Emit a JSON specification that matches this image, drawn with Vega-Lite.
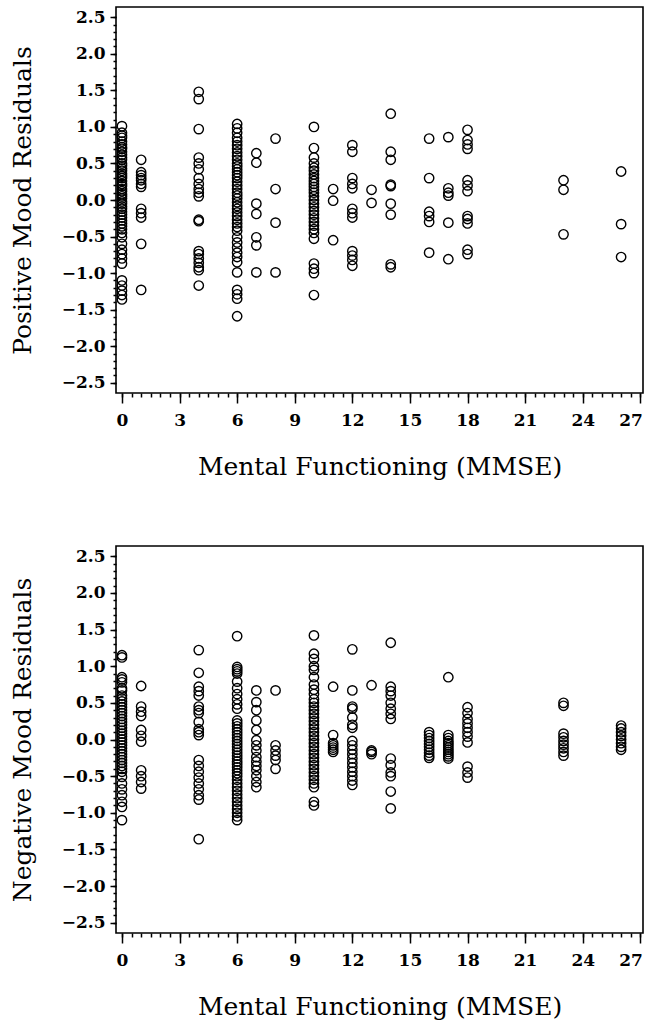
{
  "$schema": "https://vega.github.io/schema/vega-lite/v6.json",
  "padding": {"left": 9, "top": 6, "right": 4, "bottom": 0},
  "spacing": 65,
  "background": "white",
  "config": {
    "view": {"stroke": "black", "strokeWidth": 1.6},
    "axis": {
      "grid": false,
      "domain": false,
      "tickColor": "black",
      "tickWidth": 1.5,
      "labelColor": "black",
      "labelFont": "DejaVu Serif",
      "labelFontWeight": "bold",
      "labelFontSize": 17,
      "titleColor": "black",
      "titleFont": "DejaVu Serif",
      "titleFontWeight": "normal",
      "titleFontSize": 25
    }
  },
  "datasets": {
    "pos": [
      {"mmse":0,"resid":1.01},{"mmse":0,"resid":0.92},{"mmse":0,"resid":0.88},{"mmse":0,"resid":0.85},{"mmse":0,"resid":0.8},{"mmse":0,"resid":0.76},{"mmse":0,"resid":0.72},{"mmse":0,"resid":0.7},{"mmse":0,"resid":0.66},{"mmse":0,"resid":0.62},{"mmse":0,"resid":0.58},{"mmse":0,"resid":0.55},{"mmse":0,"resid":0.5},{"mmse":0,"resid":0.47},{"mmse":0,"resid":0.43},{"mmse":0,"resid":0.4},{"mmse":0,"resid":0.36},{"mmse":0,"resid":0.33},{"mmse":0,"resid":0.3},{"mmse":0,"resid":0.26},{"mmse":0,"resid":0.22},{"mmse":0,"resid":0.19},{"mmse":0,"resid":0.15},{"mmse":0,"resid":0.12},{"mmse":0,"resid":0.08},{"mmse":0,"resid":0.05},{"mmse":0,"resid":0.02},{"mmse":0,"resid":-0.02},{"mmse":0,"resid":-0.05},{"mmse":0,"resid":-0.09},{"mmse":0,"resid":-0.12},{"mmse":0,"resid":-0.16},{"mmse":0,"resid":-0.2},{"mmse":0,"resid":-0.24},{"mmse":0,"resid":-0.28},{"mmse":0,"resid":-0.32},{"mmse":0,"resid":-0.36},{"mmse":0,"resid":-0.4},{"mmse":0,"resid":-0.45},{"mmse":0,"resid":-0.51},{"mmse":0,"resid":-0.6},{"mmse":0,"resid":-0.68},{"mmse":0,"resid":-0.74},{"mmse":0,"resid":-0.8},{"mmse":0,"resid":-0.87},{"mmse":0,"resid":-1.1},{"mmse":0,"resid":-1.17},{"mmse":0,"resid":-1.24},{"mmse":0,"resid":-1.3},{"mmse":0,"resid":-1.36},
      {"mmse":1,"resid":0.55},{"mmse":1,"resid":0.38},{"mmse":1,"resid":0.34},{"mmse":1,"resid":0.3},{"mmse":1,"resid":0.27},{"mmse":1,"resid":0.22},{"mmse":1,"resid":0.18},{"mmse":1,"resid":-0.12},{"mmse":1,"resid":-0.18},{"mmse":1,"resid":-0.24},{"mmse":1,"resid":-0.6},{"mmse":1,"resid":-1.23},
      {"mmse":4,"resid":1.48},{"mmse":4,"resid":1.38},{"mmse":4,"resid":0.97},{"mmse":4,"resid":0.58},{"mmse":4,"resid":0.5},{"mmse":4,"resid":0.42},{"mmse":4,"resid":0.3},{"mmse":4,"resid":0.22},{"mmse":4,"resid":0.15},{"mmse":4,"resid":0.1},{"mmse":4,"resid":0.05},{"mmse":4,"resid":-0.27},{"mmse":4,"resid":-0.29},{"mmse":4,"resid":-0.7},{"mmse":4,"resid":-0.74},{"mmse":4,"resid":-0.8},{"mmse":4,"resid":-0.86},{"mmse":4,"resid":-0.92},{"mmse":4,"resid":-0.96},{"mmse":4,"resid":-1.17},
      {"mmse":6,"resid":1.04},{"mmse":6,"resid":0.98},{"mmse":6,"resid":0.92},{"mmse":6,"resid":0.85},{"mmse":6,"resid":0.8},{"mmse":6,"resid":0.75},{"mmse":6,"resid":0.7},{"mmse":6,"resid":0.65},{"mmse":6,"resid":0.6},{"mmse":6,"resid":0.55},{"mmse":6,"resid":0.5},{"mmse":6,"resid":0.46},{"mmse":6,"resid":0.42},{"mmse":6,"resid":0.38},{"mmse":6,"resid":0.34},{"mmse":6,"resid":0.3},{"mmse":6,"resid":0.25},{"mmse":6,"resid":0.2},{"mmse":6,"resid":0.15},{"mmse":6,"resid":0.1},{"mmse":6,"resid":0.06},{"mmse":6,"resid":0.02},{"mmse":6,"resid":-0.03},{"mmse":6,"resid":-0.08},{"mmse":6,"resid":-0.12},{"mmse":6,"resid":-0.17},{"mmse":6,"resid":-0.22},{"mmse":6,"resid":-0.27},{"mmse":6,"resid":-0.32},{"mmse":6,"resid":-0.37},{"mmse":6,"resid":-0.42},{"mmse":6,"resid":-0.51},{"mmse":6,"resid":-0.58},{"mmse":6,"resid":-0.65},{"mmse":6,"resid":-0.72},{"mmse":6,"resid":-0.78},{"mmse":6,"resid":-0.85},{"mmse":6,"resid":-0.99},{"mmse":6,"resid":-1.23},{"mmse":6,"resid":-1.29},{"mmse":6,"resid":-1.35},{"mmse":6,"resid":-1.59},
      {"mmse":7,"resid":0.64},{"mmse":7,"resid":0.51},{"mmse":7,"resid":-0.05},{"mmse":7,"resid":-0.19},{"mmse":7,"resid":-0.51},{"mmse":7,"resid":-0.62},{"mmse":7,"resid":-0.99},
      {"mmse":8,"resid":0.84},{"mmse":8,"resid":0.15},{"mmse":8,"resid":-0.31},{"mmse":8,"resid":-0.99},
      {"mmse":10,"resid":1.0},{"mmse":10,"resid":0.71},{"mmse":10,"resid":0.58},{"mmse":10,"resid":0.5},{"mmse":10,"resid":0.44},{"mmse":10,"resid":0.4},{"mmse":10,"resid":0.35},{"mmse":10,"resid":0.3},{"mmse":10,"resid":0.26},{"mmse":10,"resid":0.22},{"mmse":10,"resid":0.18},{"mmse":10,"resid":0.14},{"mmse":10,"resid":0.1},{"mmse":10,"resid":0.05},{"mmse":10,"resid":0.0},{"mmse":10,"resid":-0.05},{"mmse":10,"resid":-0.1},{"mmse":10,"resid":-0.15},{"mmse":10,"resid":-0.2},{"mmse":10,"resid":-0.25},{"mmse":10,"resid":-0.3},{"mmse":10,"resid":-0.35},{"mmse":10,"resid":-0.4},{"mmse":10,"resid":-0.45},{"mmse":10,"resid":-0.53},{"mmse":10,"resid":-0.87},{"mmse":10,"resid":-0.94},{"mmse":10,"resid":-1.0},{"mmse":10,"resid":-1.3},
      {"mmse":11,"resid":0.15},{"mmse":11,"resid":-0.01},{"mmse":11,"resid":-0.55},
      {"mmse":12,"resid":0.75},{"mmse":12,"resid":0.66},{"mmse":12,"resid":0.3},{"mmse":12,"resid":0.22},{"mmse":12,"resid":0.16},{"mmse":12,"resid":-0.12},{"mmse":12,"resid":-0.18},{"mmse":12,"resid":-0.24},{"mmse":12,"resid":-0.7},{"mmse":12,"resid":-0.76},{"mmse":12,"resid":-0.82},{"mmse":12,"resid":-0.9},
      {"mmse":13,"resid":0.14},{"mmse":13,"resid":-0.04},
      {"mmse":14,"resid":1.18},{"mmse":14,"resid":0.66},{"mmse":14,"resid":0.55},{"mmse":14,"resid":0.21},{"mmse":14,"resid":0.19},{"mmse":14,"resid":-0.05},{"mmse":14,"resid":-0.2},{"mmse":14,"resid":-0.88},{"mmse":14,"resid":-0.92},
      {"mmse":16,"resid":0.84},{"mmse":16,"resid":0.3},{"mmse":16,"resid":-0.16},{"mmse":16,"resid":-0.22},{"mmse":16,"resid":-0.3},{"mmse":16,"resid":-0.72},
      {"mmse":17,"resid":0.86},{"mmse":17,"resid":0.16},{"mmse":17,"resid":0.1},{"mmse":17,"resid":0.06},{"mmse":17,"resid":-0.31},{"mmse":17,"resid":-0.81},
      {"mmse":18,"resid":0.96},{"mmse":18,"resid":0.82},{"mmse":18,"resid":0.76},{"mmse":18,"resid":0.7},{"mmse":18,"resid":0.27},{"mmse":18,"resid":0.2},{"mmse":18,"resid":0.12},{"mmse":18,"resid":-0.22},{"mmse":18,"resid":-0.26},{"mmse":18,"resid":-0.32},{"mmse":18,"resid":-0.68},{"mmse":18,"resid":-0.74},
      {"mmse":23,"resid":0.27},{"mmse":23,"resid":0.14},{"mmse":23,"resid":-0.47},
      {"mmse":26,"resid":0.39},{"mmse":26,"resid":-0.33},{"mmse":26,"resid":-0.78}
    ],
    "neg": [
      {"mmse":0,"resid":1.15},{"mmse":0,"resid":1.12},{"mmse":0,"resid":0.85},{"mmse":0,"resid":0.82},{"mmse":0,"resid":0.78},{"mmse":0,"resid":0.7},{"mmse":0,"resid":0.67},{"mmse":0,"resid":0.6},{"mmse":0,"resid":0.56},{"mmse":0,"resid":0.52},{"mmse":0,"resid":0.48},{"mmse":0,"resid":0.44},{"mmse":0,"resid":0.4},{"mmse":0,"resid":0.36},{"mmse":0,"resid":0.32},{"mmse":0,"resid":0.28},{"mmse":0,"resid":0.24},{"mmse":0,"resid":0.2},{"mmse":0,"resid":0.16},{"mmse":0,"resid":0.12},{"mmse":0,"resid":0.08},{"mmse":0,"resid":0.04},{"mmse":0,"resid":0.0},{"mmse":0,"resid":-0.04},{"mmse":0,"resid":-0.08},{"mmse":0,"resid":-0.12},{"mmse":0,"resid":-0.16},{"mmse":0,"resid":-0.2},{"mmse":0,"resid":-0.24},{"mmse":0,"resid":-0.28},{"mmse":0,"resid":-0.32},{"mmse":0,"resid":-0.36},{"mmse":0,"resid":-0.4},{"mmse":0,"resid":-0.44},{"mmse":0,"resid":-0.51},{"mmse":0,"resid":-0.6},{"mmse":0,"resid":-0.68},{"mmse":0,"resid":-0.76},{"mmse":0,"resid":-0.85},{"mmse":0,"resid":-0.92},{"mmse":0,"resid":-1.1},
      {"mmse":1,"resid":0.73},{"mmse":1,"resid":0.45},{"mmse":1,"resid":0.38},{"mmse":1,"resid":0.32},{"mmse":1,"resid":0.13},{"mmse":1,"resid":0.05},{"mmse":1,"resid":-0.03},{"mmse":1,"resid":-0.42},{"mmse":1,"resid":-0.5},{"mmse":1,"resid":-0.58},{"mmse":1,"resid":-0.67},
      {"mmse":4,"resid":1.22},{"mmse":4,"resid":0.91},{"mmse":4,"resid":0.72},{"mmse":4,"resid":0.66},{"mmse":4,"resid":0.6},{"mmse":4,"resid":0.45},{"mmse":4,"resid":0.4},{"mmse":4,"resid":0.36},{"mmse":4,"resid":0.24},{"mmse":4,"resid":0.14},{"mmse":4,"resid":0.1},{"mmse":4,"resid":0.06},{"mmse":4,"resid":-0.28},{"mmse":4,"resid":-0.36},{"mmse":4,"resid":-0.44},{"mmse":4,"resid":-0.52},{"mmse":4,"resid":-0.6},{"mmse":4,"resid":-0.68},{"mmse":4,"resid":-0.76},{"mmse":4,"resid":-0.82},{"mmse":4,"resid":-1.36},
      {"mmse":6,"resid":1.41},{"mmse":6,"resid":0.99},{"mmse":6,"resid":0.96},{"mmse":6,"resid":0.93},{"mmse":6,"resid":0.9},{"mmse":6,"resid":0.79},{"mmse":6,"resid":0.7},{"mmse":6,"resid":0.62},{"mmse":6,"resid":0.55},{"mmse":6,"resid":0.48},{"mmse":6,"resid":0.42},{"mmse":6,"resid":0.26},{"mmse":6,"resid":0.22},{"mmse":6,"resid":0.18},{"mmse":6,"resid":0.14},{"mmse":6,"resid":0.1},{"mmse":6,"resid":0.06},{"mmse":6,"resid":0.02},{"mmse":6,"resid":-0.02},{"mmse":6,"resid":-0.06},{"mmse":6,"resid":-0.1},{"mmse":6,"resid":-0.14},{"mmse":6,"resid":-0.18},{"mmse":6,"resid":-0.22},{"mmse":6,"resid":-0.26},{"mmse":6,"resid":-0.3},{"mmse":6,"resid":-0.34},{"mmse":6,"resid":-0.38},{"mmse":6,"resid":-0.42},{"mmse":6,"resid":-0.46},{"mmse":6,"resid":-0.5},{"mmse":6,"resid":-0.55},{"mmse":6,"resid":-0.6},{"mmse":6,"resid":-0.65},{"mmse":6,"resid":-0.7},{"mmse":6,"resid":-0.75},{"mmse":6,"resid":-0.8},{"mmse":6,"resid":-0.85},{"mmse":6,"resid":-0.9},{"mmse":6,"resid":-0.95},{"mmse":6,"resid":-1.0},{"mmse":6,"resid":-1.05},{"mmse":6,"resid":-1.1},
      {"mmse":7,"resid":0.67},{"mmse":7,"resid":0.51},{"mmse":7,"resid":0.4},{"mmse":7,"resid":0.26},{"mmse":7,"resid":0.13},{"mmse":7,"resid":-0.01},{"mmse":7,"resid":-0.08},{"mmse":7,"resid":-0.15},{"mmse":7,"resid":-0.24},{"mmse":7,"resid":-0.3},{"mmse":7,"resid":-0.36},{"mmse":7,"resid":-0.42},{"mmse":7,"resid":-0.5},{"mmse":7,"resid":-0.58},{"mmse":7,"resid":-0.65},
      {"mmse":8,"resid":0.67},{"mmse":8,"resid":-0.08},{"mmse":8,"resid":-0.15},{"mmse":8,"resid":-0.22},{"mmse":8,"resid":-0.28},{"mmse":8,"resid":-0.4},
      {"mmse":10,"resid":1.42},{"mmse":10,"resid":1.17},{"mmse":10,"resid":1.1},{"mmse":10,"resid":1.0},{"mmse":10,"resid":0.95},{"mmse":10,"resid":0.85},{"mmse":10,"resid":0.75},{"mmse":10,"resid":0.68},{"mmse":10,"resid":0.62},{"mmse":10,"resid":0.55},{"mmse":10,"resid":0.5},{"mmse":10,"resid":0.45},{"mmse":10,"resid":0.4},{"mmse":10,"resid":0.35},{"mmse":10,"resid":0.3},{"mmse":10,"resid":0.25},{"mmse":10,"resid":0.2},{"mmse":10,"resid":0.15},{"mmse":10,"resid":0.1},{"mmse":10,"resid":0.05},{"mmse":10,"resid":0.0},{"mmse":10,"resid":-0.05},{"mmse":10,"resid":-0.1},{"mmse":10,"resid":-0.15},{"mmse":10,"resid":-0.2},{"mmse":10,"resid":-0.25},{"mmse":10,"resid":-0.3},{"mmse":10,"resid":-0.35},{"mmse":10,"resid":-0.4},{"mmse":10,"resid":-0.45},{"mmse":10,"resid":-0.5},{"mmse":10,"resid":-0.55},{"mmse":10,"resid":-0.6},{"mmse":10,"resid":-0.65},{"mmse":10,"resid":-0.85},{"mmse":10,"resid":-0.9},
      {"mmse":11,"resid":0.72},{"mmse":11,"resid":0.06},{"mmse":11,"resid":-0.05},{"mmse":11,"resid":-0.08},{"mmse":11,"resid":-0.11},{"mmse":11,"resid":-0.14},{"mmse":11,"resid":-0.17},
      {"mmse":12,"resid":1.23},{"mmse":12,"resid":0.67},{"mmse":12,"resid":0.45},{"mmse":12,"resid":0.42},{"mmse":12,"resid":0.3},{"mmse":12,"resid":0.2},{"mmse":12,"resid":0.16},{"mmse":12,"resid":-0.02},{"mmse":12,"resid":-0.08},{"mmse":12,"resid":-0.14},{"mmse":12,"resid":-0.2},{"mmse":12,"resid":-0.26},{"mmse":12,"resid":-0.32},{"mmse":12,"resid":-0.38},{"mmse":12,"resid":-0.44},{"mmse":12,"resid":-0.5},{"mmse":12,"resid":-0.56},{"mmse":12,"resid":-0.62},
      {"mmse":13,"resid":0.74},{"mmse":13,"resid":-0.15},{"mmse":13,"resid":-0.17},{"mmse":13,"resid":-0.2},
      {"mmse":14,"resid":1.32},{"mmse":14,"resid":0.72},{"mmse":14,"resid":0.66},{"mmse":14,"resid":0.6},{"mmse":14,"resid":0.5},{"mmse":14,"resid":0.42},{"mmse":14,"resid":0.35},{"mmse":14,"resid":0.28},{"mmse":14,"resid":-0.26},{"mmse":14,"resid":-0.35},{"mmse":14,"resid":-0.45},{"mmse":14,"resid":-0.5},{"mmse":14,"resid":-0.71},{"mmse":14,"resid":-0.94},
      {"mmse":16,"resid":0.1},{"mmse":16,"resid":0.06},{"mmse":16,"resid":0.02},{"mmse":16,"resid":-0.02},{"mmse":16,"resid":-0.06},{"mmse":16,"resid":-0.1},{"mmse":16,"resid":-0.14},{"mmse":16,"resid":-0.18},{"mmse":16,"resid":-0.22},{"mmse":16,"resid":-0.25},
      {"mmse":17,"resid":0.85},{"mmse":17,"resid":0.06},{"mmse":17,"resid":0.02},{"mmse":17,"resid":-0.02},{"mmse":17,"resid":-0.05},{"mmse":17,"resid":-0.08},{"mmse":17,"resid":-0.11},{"mmse":17,"resid":-0.14},{"mmse":17,"resid":-0.17},{"mmse":17,"resid":-0.2},{"mmse":17,"resid":-0.23},{"mmse":17,"resid":-0.26},
      {"mmse":18,"resid":0.44},{"mmse":18,"resid":0.36},{"mmse":18,"resid":0.28},{"mmse":18,"resid":0.22},{"mmse":18,"resid":0.16},{"mmse":18,"resid":0.1},{"mmse":18,"resid":0.04},{"mmse":18,"resid":-0.04},{"mmse":18,"resid":-0.37},{"mmse":18,"resid":-0.45},{"mmse":18,"resid":-0.52},
      {"mmse":23,"resid":0.5},{"mmse":23,"resid":0.46},{"mmse":23,"resid":0.08},{"mmse":23,"resid":0.03},{"mmse":23,"resid":-0.02},{"mmse":23,"resid":-0.07},{"mmse":23,"resid":-0.12},{"mmse":23,"resid":-0.17},{"mmse":23,"resid":-0.22},
      {"mmse":26,"resid":0.19},{"mmse":26,"resid":0.15},{"mmse":26,"resid":0.1},{"mmse":26,"resid":0.05},{"mmse":26,"resid":0.0},{"mmse":26,"resid":-0.05},{"mmse":26,"resid":-0.1},{"mmse":26,"resid":-0.14}
    ]
  },
  "vconcat": [
    {
      "width": 527,
      "height": 386,
      "data": {"name": "pos"},
      "resolve": {"axis": {"x": "independent", "y": "independent"}},
      "layer": [
        {
          "mark": {"type": "point", "shape": "circle", "filled": false, "stroke": "black", "strokeWidth": 1.4, "size": 88, "opacity": 1},
          "encoding": {
            "x": {"field": "mmse", "type": "quantitative", "scale": {"domain": [-0.31, 27.14], "nice": false, "zero": false},
                  "axis": {"orient": "bottom", "values": [0,3,6,9,12,15,18,21,24,27], "format": "d", "tickSize": 10, "labelPadding": 9, "labelFlush": 4, "labelFlushOffset": 2, "title": "Mental Functioning (MMSE)", "titlePadding": 26}},
            "y": {"field": "resid", "type": "quantitative", "scale": {"domain": [-2.64, 2.64], "nice": false, "zero": false},
                  "axis": {"orient": "left", "values": [-2.5,-2,-1.5,-1,-0.5,0,0.5,1,1.5,2,2.5], "format": ".1f", "tickSize": 6, "labelPadding": 5, "title": "Positive Mood Residuals", "titlePadding": 26}}
          }
        },
        {
          "mark": {"type": "point", "opacity": 0},
          "encoding": {
            "x": {"field": "mmse", "type": "quantitative",
                  "axis": {"orient": "bottom", "values": [0,0.5,1,1.5,2,2.5,3,3.5,4,4.5,5,5.5,6,6.5,7,7.5,8,8.5,9,9.5,10,10.5,11,11.5,12,12.5,13,13.5,14,14.5,15,15.5,16,16.5,17,17.5,18,18.5,19,19.5,20,20.5,21,21.5,22,22.5,23,23.5,24,24.5,25,25.5,26,26.5,27], "tickSize": 4, "labels": false, "title": null}},
            "y": {"field": "resid", "type": "quantitative",
                  "axis": {"orient": "left", "values": [-2.5,-2.4,-2.3,-2.2,-2.1,-2,-1.9,-1.8,-1.7,-1.6,-1.5,-1.4,-1.3,-1.2,-1.1,-1,-0.9,-0.8,-0.7,-0.6,-0.5,-0.4,-0.3,-0.2,-0.1,0,0.1,0.2,0.3,0.4,0.5,0.6,0.7,0.8,0.9,1,1.1,1.2,1.3,1.4,1.5,1.6,1.7,1.8,1.9,2,2.1,2.2,2.3,2.4,2.5], "tickSize": 3, "labels": false, "title": null}}
          }
        }
      ]
    },
    {
      "width": 527,
      "height": 387,
      "data": {"name": "neg"},
      "resolve": {"axis": {"x": "independent", "y": "independent"}},
      "layer": [
        {
          "mark": {"type": "point", "shape": "circle", "filled": false, "stroke": "black", "strokeWidth": 1.4, "size": 88, "opacity": 1},
          "encoding": {
            "x": {"field": "mmse", "type": "quantitative", "scale": {"domain": [-0.31, 27.14], "nice": false, "zero": false},
                  "axis": {"orient": "bottom", "values": [0,3,6,9,12,15,18,21,24,27], "format": "d", "tickSize": 10, "labelPadding": 9, "labelFlush": 4, "labelFlushOffset": 2, "title": "Mental Functioning (MMSE)", "titlePadding": 26}},
            "y": {"field": "resid", "type": "quantitative", "scale": {"domain": [-2.64, 2.64], "nice": false, "zero": false},
                  "axis": {"orient": "left", "values": [-2.5,-2,-1.5,-1,-0.5,0,0.5,1,1.5,2,2.5], "format": ".1f", "tickSize": 6, "labelPadding": 5, "title": "Negative Mood Residuals", "titlePadding": 26}}
          }
        },
        {
          "mark": {"type": "point", "opacity": 0},
          "encoding": {
            "x": {"field": "mmse", "type": "quantitative",
                  "axis": {"orient": "bottom", "values": [0,0.5,1,1.5,2,2.5,3,3.5,4,4.5,5,5.5,6,6.5,7,7.5,8,8.5,9,9.5,10,10.5,11,11.5,12,12.5,13,13.5,14,14.5,15,15.5,16,16.5,17,17.5,18,18.5,19,19.5,20,20.5,21,21.5,22,22.5,23,23.5,24,24.5,25,25.5,26,26.5,27], "tickSize": 4, "labels": false, "title": null}},
            "y": {"field": "resid", "type": "quantitative",
                  "axis": {"orient": "left", "values": [-2.5,-2.4,-2.3,-2.2,-2.1,-2,-1.9,-1.8,-1.7,-1.6,-1.5,-1.4,-1.3,-1.2,-1.1,-1,-0.9,-0.8,-0.7,-0.6,-0.5,-0.4,-0.3,-0.2,-0.1,0,0.1,0.2,0.3,0.4,0.5,0.6,0.7,0.8,0.9,1,1.1,1.2,1.3,1.4,1.5,1.6,1.7,1.8,1.9,2,2.1,2.2,2.3,2.4,2.5], "tickSize": 3, "labels": false, "title": null}}
          }
        }
      ]
    }
  ]
}
